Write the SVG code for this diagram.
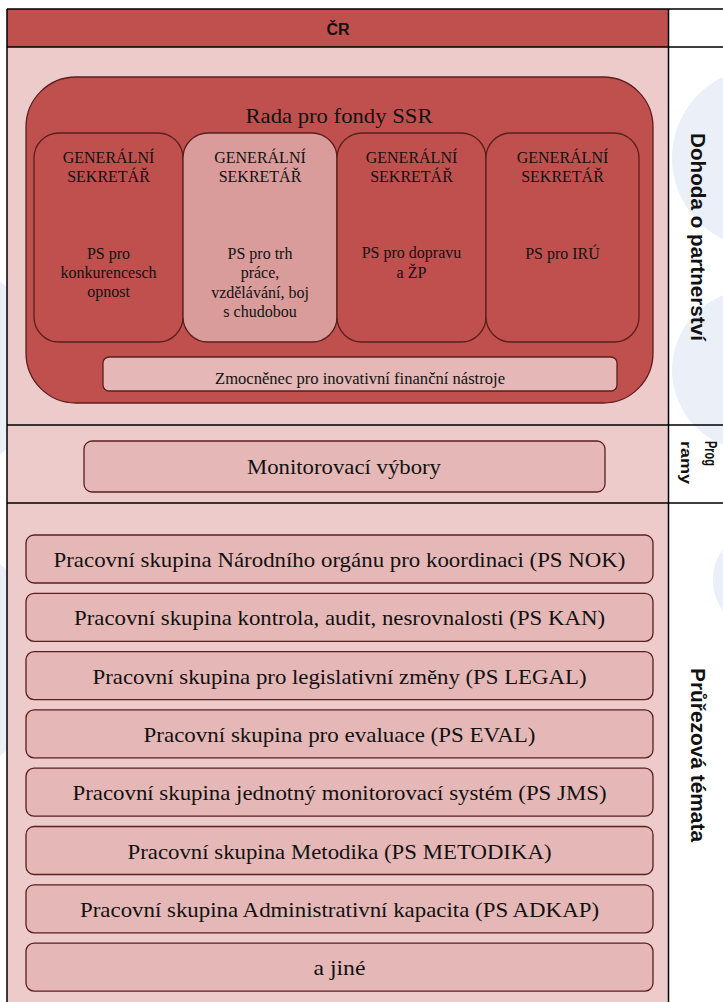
<svg xmlns="http://www.w3.org/2000/svg" width="723" height="1002" viewBox="0 0 723 1002">
<style>
.serif{fill:#111;text-anchor:middle;}
.sans{font-family:'Liberation Sans',Arial,sans-serif;font-weight:bold;fill:#111;}
.box{stroke:#5a1f1e;stroke-width:1.3;}
.light{fill:#e5b8b7;}
.mid{fill:#d99c9b;}
.red{fill:#c0504d;}
.grid{stroke:#000;stroke-width:1.5;fill:none;}
.wm{fill:#eaeff8;}
.f16{font-size:16px;}
.f21{font-size:21px;}
.f22{font-size:22px;}
</style>
<rect x="0" y="0" width="723" height="1002" fill="#fff"/>
<g id="watermark">
<circle class="wm" cx="762" cy="158" r="90"/>
<circle class="wm" cx="752" cy="370" r="80"/>
<circle class="wm" cx="765" cy="580" r="52"/>
<circle class="wm" cx="-60" cy="368" r="105"/>
<circle class="wm" cx="-80" cy="660" r="125"/>
</g>
<g id="table">
<rect x="7" y="9" width="661" height="38" class="red"/>
<rect x="7" y="47" width="661" height="955" fill="#edcbcb"/>
<path class="grid" d="M7,9 H723 M7,47 H723 M7,425 H723 M7,503 H723 M7,9 V1002 M668.5,9 V1002"/>
<text class="sans" x="338" y="35" font-size="16" text-anchor="middle">ČR</text>
<text class="sans" font-size="20" transform="translate(691,133) rotate(90)" textLength="208" lengthAdjust="spacingAndGlyphs">Dohoda o partnerství</text>
<text class="sans" font-size="16" transform="translate(705,441) rotate(90)" textLength="25" lengthAdjust="spacingAndGlyphs">Prog</text>
<text class="sans" font-size="15" transform="translate(681,441) rotate(90)" textLength="43" lengthAdjust="spacingAndGlyphs">ramy</text>
<text class="sans" font-size="20" transform="translate(691,668) rotate(90)" textLength="174" lengthAdjust="spacingAndGlyphs">Průřezová témata</text>
</g>
<g font-family="Liberation Serif, DejaVu Serif, serif">
<g id="rada">
<rect x="26" y="77" width="627" height="326" rx="50" ry="50" class="red box"/>
<text class="serif f22" x="339" y="123" textLength="187" lengthAdjust="spacingAndGlyphs">Rada pro fondy SSR</text>
</g>
<g id="gs1">
<rect x="34" y="133" width="149" height="209" rx="25" ry="25" class="red box"/>
<text class="serif f16" x="108.5" y="163">GENERÁLNÍ</text>
<text class="serif f16" x="108.5" y="182">SEKRETÁŘ</text>
<text class="serif f16" x="108.5" y="259">PS pro</text>
<text class="serif f16" x="108.5" y="278">konkurencesch</text>
<text class="serif f16" x="108.5" y="297">opnost</text>
</g>
<g id="gs2">
<rect x="183" y="133" width="154" height="209" rx="25" ry="25" class="mid box"/>
<text class="serif f16" x="260" y="163">GENERÁLNÍ</text>
<text class="serif f16" x="260" y="182">SEKRETÁŘ</text>
<text class="serif f16" x="260" y="259">PS pro trh</text>
<text class="serif f16" x="260" y="278">práce,</text>
<text class="serif f16" x="260" y="298">vzdělávání, boj</text>
<text class="serif f16" x="260" y="317">s chudobou</text>
</g>
<g id="gs3">
<rect x="337" y="133" width="149" height="209" rx="25" ry="25" class="red box"/>
<text class="serif f16" x="411.5" y="163">GENERÁLNÍ</text>
<text class="serif f16" x="411.5" y="182">SEKRETÁŘ</text>
<text class="serif f16" x="411.5" y="258">PS pro dopravu</text>
<text class="serif f16" x="411.5" y="278">a ŽP</text>
</g>
<g id="gs4">
<rect x="486" y="133" width="153" height="209" rx="25" ry="25" class="red box"/>
<text class="serif f16" x="562.5" y="163">GENERÁLNÍ</text>
<text class="serif f16" x="562.5" y="182">SEKRETÁŘ</text>
<text class="serif f16" x="562.5" y="259">PS pro IRÚ</text>
</g>
<g id="zmocnenec">
<rect x="103" y="357" width="514" height="34" rx="6" ry="6" class="light box"/>
<text class="serif f16" x="360" y="384" textLength="290" lengthAdjust="spacingAndGlyphs">Zmocněnec pro inovativní finanční nástroje</text>
</g>
<g id="monitorovaci">
<rect x="84" y="441" width="521" height="51" rx="8" ry="8" class="light box"/>
<text class="serif f22" x="344" y="474" textLength="194" lengthAdjust="spacingAndGlyphs">Monitorovací výbory</text>
</g>
<g id="ps-nok">
<rect x="26" y="535" width="627" height="48" rx="8" ry="8" class="light box"/>
<text class="serif f21" x="339.5" y="567" textLength="572" lengthAdjust="spacingAndGlyphs">Pracovní skupina Národního orgánu pro koordinaci (PS NOK)</text>
</g>
<g id="ps-kan">
<rect x="26" y="593.3" width="627" height="48" rx="8" ry="8" class="light box"/>
<text class="serif f21" x="339.5" y="625.3" textLength="531" lengthAdjust="spacingAndGlyphs">Pracovní skupina kontrola, audit, nesrovnalosti (PS KAN)</text>
</g>
<g id="ps-legal">
<rect x="26" y="651.6" width="627" height="48" rx="8" ry="8" class="light box"/>
<text class="serif f21" x="339.5" y="683.6" textLength="494" lengthAdjust="spacingAndGlyphs">Pracovní skupina pro legislativní změny (PS LEGAL)</text>
</g>
<g id="ps-eval">
<rect x="26" y="709.9" width="627" height="48" rx="8" ry="8" class="light box"/>
<text class="serif f21" x="339.5" y="741.9" textLength="392" lengthAdjust="spacingAndGlyphs">Pracovní skupina pro evaluace (PS EVAL)</text>
</g>
<g id="ps-jms">
<rect x="26" y="768.2" width="627" height="48" rx="8" ry="8" class="light box"/>
<text class="serif f21" x="339.5" y="800.2" textLength="534" lengthAdjust="spacingAndGlyphs">Pracovní skupina jednotný monitorovací systém (PS JMS)</text>
</g>
<g id="ps-metodika">
<rect x="26" y="826.5" width="627" height="48" rx="8" ry="8" class="light box"/>
<text class="serif f21" x="339.5" y="858.5" textLength="424" lengthAdjust="spacingAndGlyphs">Pracovní skupina Metodika (PS METODIKA)</text>
</g>
<g id="ps-adkap">
<rect x="26" y="884.8" width="627" height="48" rx="8" ry="8" class="light box"/>
<text class="serif f21" x="339.5" y="916.8" textLength="519" lengthAdjust="spacingAndGlyphs">Pracovní skupina Administrativní kapacita (PS ADKAP)</text>
</g>
<g id="a-jine">
<rect x="26" y="943.1" width="627" height="48" rx="8" ry="8" class="light box"/>
<text class="serif f21" x="339.5" y="975.1" textLength="52" lengthAdjust="spacingAndGlyphs">a jiné</text>
</g>
</g>
<g id="connectors"/>
</svg>
